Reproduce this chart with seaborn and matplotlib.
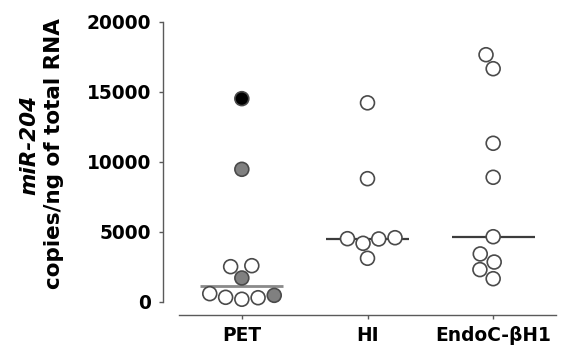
import matplotlib
matplotlib.use("Agg")
import matplotlib.pyplot as plt
import numpy as np
import pandas as pd
import seaborn as sns

# ---- data ----
categories = ["PET", "HI", "EndoC-βH1"]
pet_values = [14500, 9450, 2560, 2490, 1680, 560, 440, 300, 270, 160]
pet_fill = ["black", "gray", "open", "open", "gray", "open", "gray", "open", "open", "open"]
hi_values = [14200, 8780, 4560, 4490, 4470, 4160, 3090]
endo_values = [17640, 16640, 11310, 8880, 4630, 3400, 2820, 2280, 1630]
y_ticks = [0, 5000, 10000, 15000, 20000]
ylabel_line1 = "miR-204"
ylabel_line2 = "copies/ng of total RNA"

fill_palette = {"open": "white", "gray": "#808080", "black": "black"}
median_colors = {"PET": "#8a8a8a", "HI": "#3c3c3c", "EndoC-βH1": "#3c3c3c"}

df = pd.DataFrame({
    "group": ["PET"] * len(pet_values) + ["HI"] * len(hi_values) + ["EndoC-βH1"] * len(endo_values),
    "value": pet_values + hi_values + endo_values,
    "fill": pet_fill + ["open"] * len(hi_values) + ["open"] * len(endo_values),
})

sns.set_style("white")
plt.rcParams["font.family"] = ["DejaVu Sans"]
plt.rcParams["text.color"] = "black"

fig = plt.figure(figsize=(5.61, 3.52), dpi=100)
ax = fig.add_axes([179 / 561, 1 - 301.5 / 352, (556 - 179) / 561, (301.5 - 21.7) / 352])

sns.swarmplot(data=df, x="group", y="value", hue="fill", palette=fill_palette,
              order=categories, size=10, linewidth=1.2, edgecolor="#4a4a4a",
              legend=False, ax=ax, zorder=3)
for coll in ax.collections:
    coll.set_clip_on(False)

medians = df.groupby("group")["value"].median().reindex(categories)
for i, (cat, m) in enumerate(medians.items()):
    ax.hlines(m, i - 0.33, i + 0.33, color=median_colors[cat],
              lw=2.0 if cat == "PET" else 1.6, zorder=1)

ax.set_xlim(-0.5, 2.5)
ax.set_ylim(0, 20000)
ax.set_yticks(y_ticks)
ax.set_yticklabels([str(t) for t in y_ticks])
ax.set_xlabel("")
ax.set_ylabel("")

sns.despine(ax=ax)
ax.spines["left"].set_position(("outward", 11.2))
ax.spines["bottom"].set_position(("outward", 9.7))
ax.spines["left"].set_bounds(0, 20000)
for s in ("left", "bottom"):
    ax.spines[s].set_color("#5a5a5a")
    ax.spines[s].set_linewidth(1.0)

ax.tick_params(axis="both", direction="out", length=3, width=1.0, color="#5a5a5a",
               labelsize=13.4, labelcolor="black", left=True, bottom=True)
ax.tick_params(axis="y", pad=6)
ax.tick_params(axis="x", pad=5)
for lab in ax.get_xticklabels() + ax.get_yticklabels():
    lab.set_fontweight("bold")

fig.text(35 / 561, 1 - 145 / 352, ylabel_line1, rotation=90, rotation_mode="anchor",
         ha="center", va="baseline", fontsize=15.5, fontweight="bold", fontstyle="italic",
         color="black")
fig.text(60 / 561, 1 - 154 / 352, ylabel_line2, rotation=90, rotation_mode="anchor",
         ha="center", va="baseline", fontsize=15.5, fontweight="bold", color="black")

fig.savefig("out.png", dpi=100)
